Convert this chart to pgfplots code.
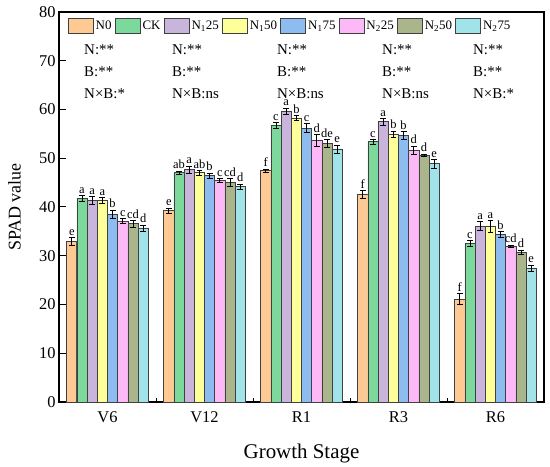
\documentclass[border=0pt]{standalone}
\usepackage{pgfplots}
\usepackage{pgfplotstable}
\pgfplotsset{compat=1.18}
\usepackage{fontspec}
\setmainfont{Liberation Serif}

\definecolor{cN0}{HTML}{FFC994}
\definecolor{cCK}{HTML}{7DD89B}
\definecolor{cNa}{HTML}{C9B4DB}
\definecolor{cNb}{HTML}{FFFF99}
\definecolor{cNc}{HTML}{8DBCF0}
\definecolor{cNd}{HTML}{FDB8F8}
\definecolor{cNe}{HTML}{ABB58B}
\definecolor{cNf}{HTML}{A0E4EA}

\pgfplotstableread{
x y e l
0 32.9 0.8 e
1 39.2 0.6 e
2 47.5 0.3 f
3 42.6 0.8 f
4 21.1 1.1 f
}\tNzero
\pgfplotstableread{
x y e l
0 41.7 0.6 a
1 47.0 0.4 ab
2 56.8 0.6 c
3 53.4 0.5 c
4 32.6 0.6 c
}\tCK
\pgfplotstableread{
x y e l
0 41.4 0.8 a
1 47.7 0.7 a
2 59.7 0.6 a
3 57.5 0.7 a
4 36.1 0.9 a
}\tNa
\pgfplotstableread{
x y e l
0 41.4 0.6 a
1 47.0 0.5 ab
2 58.2 0.5 b
3 54.9 0.7 b
4 36.1 1.2 a
}\tNb
\pgfplotstableread{
x y e l
0 38.5 0.9 b
1 46.4 0.6 b
2 56.2 0.9 c
3 54.7 0.8 b
4 34.4 0.6 b
}\tNc
\pgfplotstableread{
x y e l
0 37.1 0.5 c
1 45.5 0.4 c
2 53.7 1.2 d
3 51.7 0.8 d
4 32.0 0.2 cd
}\tNd
\pgfplotstableread{
x y e l
0 36.6 0.7 cd
1 45.1 0.8 cd
2 53.0 0.8 de
3 50.6 0.3 d
4 30.7 0.5 d
}\tNe
\pgfplotstableread{
x y e l
0 35.7 0.6 d
1 44.2 0.5 d
2 51.9 0.8 e
3 48.9 0.9 e
4 27.4 0.7 e
}\tNf

\pgfplotsset{
  mybar/.style={
    fill=#1, draw=black!75, line width=0.8bp,
    bar width=10.2bp,
    error bars/.cd, y dir=both, y explicit,
    error bar style={line width=0.7bp, black},
    error mark options={rotate=90, mark size=2.9bp, line width=0.7bp, black},
    /pgfplots/.cd,
    nodes near coords,
    point meta=explicit symbolic,
    visualization depends on={\thisrow{e} \as \myerr},
    every node near coord/.append style={yshift=\myerr*4.9pt+0.8pt, font=\fontsize{12.5}{13}\selectfont, inner sep=0.8bp, anchor=south, text=black},
    legend image code/.code={\draw[fill=#1, draw=black!75, line width=0.8bp] (0bp,-7.5bp) rectangle (25bp,7.5bp);},
  },
}

\begin{document}
\begin{tikzpicture}
\begin{axis}[
  scale only axis,
  width=485bp, height=390bp,
  ybar,
  xmin=-0.5, xmax=4.5,
  ymin=0, ymax=80,
  xtick={0,1,2,3,4},
  xticklabels={V6,V12,R1,R3,R6},
  minor xtick={0.5,1.5,2.5,3.5},
  ytick={0,10,20,30,40,50,60,70,80},
  tick align=inside,
  xtick pos=bottom, ytick pos=left,
  major x tick style={draw=none},
  minor tick length=4bp,
  major tick length=7bp,
  tick style={line width=1bp, black},
  minor tick style={line width=0.9bp, black},
  axis line style={line width=1.3bp},
  /pgf/number format/assume math mode=true,
  tick label style={font=\fontsize{16.5}{18}\selectfont},
  xticklabel style={yshift=-6bp},
  ylabel={SPAD value},
  xlabel={Growth Stage},
  ylabel style={at={(axis description cs:-0.0918,0.5)}, anchor=center, rotate=0, font=\fontsize{18}{20}\selectfont},
  xlabel style={at={(axis description cs:0.5,-0.132)}, anchor=center, font=\fontsize{21}{23}\selectfont},
  legend columns=8,
  legend style={draw=none, fill=none, at={(axis description cs:0.018,0.984)}, anchor=north west,
    font=\fontsize{13}{14}\selectfont, inner sep=0bp,
    /tikz/every even column/.append style={column sep=1.2bp}},
  clip=false,
]
\addplot[mybar=cN0, bar shift=-35.7bp] table[x=x, y=y, y error=e, meta=l] {\tNzero};
\addlegendentry{N0}
\addplot[mybar=cCK, bar shift=-25.5bp] table[x=x, y=y, y error=e, meta=l] {\tCK};
\addlegendentry{CK}
\addplot[mybar=cNa, bar shift=-15.3bp] table[x=x, y=y, y error=e, meta=l] {\tNa};
\addlegendentry{N\textsubscript{1}25}
\addplot[mybar=cNb, bar shift=-5.1bp] table[x=x, y=y, y error=e, meta=l] {\tNb};
\addlegendentry{N\textsubscript{1}50}
\addplot[mybar=cNc, bar shift=5.1bp] table[x=x, y=y, y error=e, meta=l] {\tNc};
\addlegendentry{N\textsubscript{1}75}
\addplot[mybar=cNd, bar shift=15.3bp] table[x=x, y=y, y error=e, meta=l] {\tNd};
\addlegendentry{N\textsubscript{2}25}
\addplot[mybar=cNe, bar shift=25.5bp] table[x=x, y=y, y error=e, meta=l] {\tNe};
\addlegendentry{N\textsubscript{2}50}
\addplot[mybar=cNf, bar shift=35.7bp] table[x=x, y=y, y error=e, meta=l] {\tNf};
\addlegendentry{N\textsubscript{2}75}

\begin{scope}[every node/.style={font=\fontsize{15}{16}\selectfont, anchor=base west, inner sep=0pt}]
\node at (axis cs:-0.242,71.2) {N:**};
\node at (axis cs:-0.242,66.7) {B:**};
\node at (axis cs:-0.242,62.2) {N×B:*};
\node at (axis cs:0.665,71.2) {N:**};
\node at (axis cs:0.665,66.7) {B:**};
\node at (axis cs:0.665,62.2) {N×B:ns};
\node at (axis cs:1.747,71.2) {N:**};
\node at (axis cs:1.747,66.7) {B:**};
\node at (axis cs:1.747,62.2) {N×B:ns};
\node at (axis cs:2.83,71.2) {N:**};
\node at (axis cs:2.83,66.7) {B:**};
\node at (axis cs:2.83,62.2) {N×B:ns};
\node at (axis cs:3.768,71.2) {N:**};
\node at (axis cs:3.768,66.7) {B:**};
\node at (axis cs:3.768,62.2) {N×B:*};
\end{scope}
\end{axis}
\path (current axis.south west) ++(-59bp,-65bp);
\path (current axis.north east) ++(6bp,12bp);
\end{tikzpicture}
\end{document}
